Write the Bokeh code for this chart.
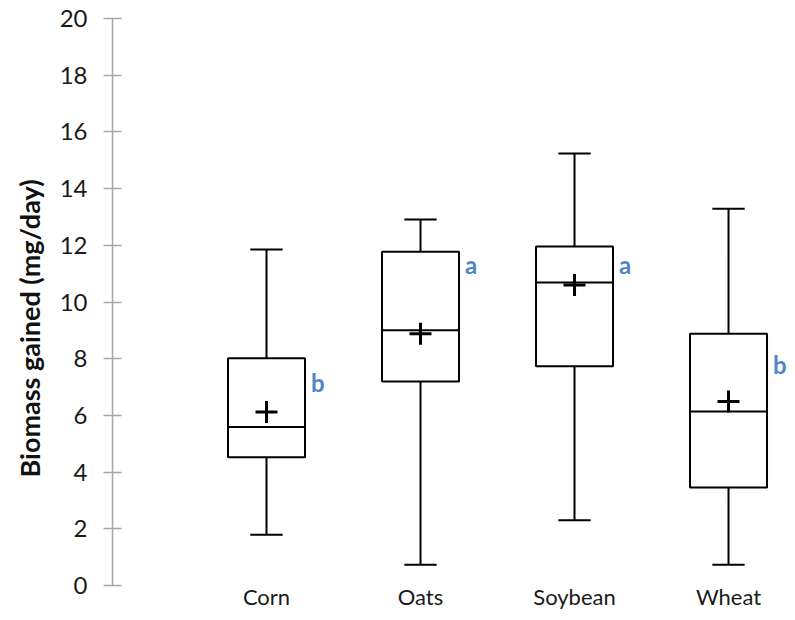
from bokeh.plotting import figure
from bokeh.models import Range1d, FixedTicker, ColumnDataSource, Title
from bokeh.core.properties import value
from bokeh.embed import file_html
from bokeh.resources import INLINE

# ---- data ----
categories = ["Corn", "Oats", "Soybean", "Wheat"]
whisker_low = [1.79, 0.73, 2.30, 0.73]
q1 = [4.52, 7.20, 7.73, 3.46]
median = [5.59, 9.00, 10.69, 6.14]
q3 = [8.02, 11.77, 11.96, 8.88]
whisker_high = [11.85, 12.91, 15.24, 13.29]
mean = [6.12, 8.88, 10.60, 6.49]
group_letters = ["b", "a", "a", "b"]
letter_y = [7.17, 11.33, 11.33, 7.80]
y_ticks = [0, 2, 4, 6, 8, 10, 12, 14, 16, 18, 20]
y_title = "Biomass gained (mg/day)"

xs = list(range(1, len(categories) + 1))
BOX_W = 0.5
CAP_W = 0.21

src = ColumnDataSource(dict(
    x=xs,
    left=[x - BOX_W / 2 for x in xs],
    right=[x + BOX_W / 2 for x in xs],
    cap_l=[x - CAP_W / 2 for x in xs],
    cap_r=[x + CAP_W / 2 for x in xs],
    low=whisker_low, q1=q1, med=median, q3=q3, high=whisker_high,
    mean=mean, letter=group_letters, letter_y=letter_y,
))

p = figure(width=787, height=612, x_range=Range1d(0, 4.383), y_range=Range1d(0, 20),
           output_backend="svg", toolbar_location=None,
           min_border_left=112, min_border_right=0, min_border_top=18, min_border_bottom=26)
p.outline_line_color = None
p.xgrid.visible = False
p.ygrid.visible = False
p.background_fill_color = "white"
p.border_fill_color = "white"

FONT = "Lato"
TXT = "#1a1a1a"

# y axis
ya = p.yaxis[0]
ya.ticker = FixedTicker(ticks=y_ticks)
ya.axis_line_color = "#a6a6a6"
ya.axis_line_width = 1.5
ya.major_tick_line_color = "#a6a6a6"
ya.major_tick_line_width = 1.5
ya.major_tick_in = 9
ya.major_tick_out = 9
ya.minor_tick_line_color = None
ya.major_label_text_font = FONT
ya.major_label_text_font_size = "24px"
ya.major_label_text_color = TXT
ya.major_label_standoff = 16

# y-axis title, shifted slightly below the frame centre as in the reference
p.add_layout(Title(text=y_title, align="left", offset=108, standoff=21,
                   text_font=FONT, text_font_size="27px", text_font_style="bold",
                   text_color="#111111"), "left")

# x axis
xa = p.xaxis[0]
xa.ticker = FixedTicker(ticks=xs)
xa.major_label_overrides = {x: c for x, c in zip(xs, categories)}
xa.axis_line_color = None
xa.major_tick_line_color = None
xa.minor_tick_line_color = None
xa.major_tick_in = 0
xa.major_tick_out = 0
xa.major_label_text_font = FONT
xa.major_label_text_font_size = "22px"
xa.major_label_text_color = TXT
xa.major_label_standoff = -3

LW = 2
# whiskers
p.segment(x0="x", y0="q3", x1="x", y1="high", source=src, line_color="black", line_width=LW)
p.segment(x0="x", y0="low", x1="x", y1="q1", source=src, line_color="black", line_width=LW)
# caps
p.segment(x0="cap_l", y0="high", x1="cap_r", y1="high", source=src, line_color="black", line_width=LW)
p.segment(x0="cap_l", y0="low", x1="cap_r", y1="low", source=src, line_color="black", line_width=LW)
# boxes
p.quad(left="left", right="right", bottom="q1", top="q3", source=src,
       fill_color="white", line_color="black", line_width=LW)
# median
p.segment(x0="left", y0="med", x1="right", y1="med", source=src, line_color="black", line_width=LW)
# mean
p.scatter(x="x", y="mean", source=src, marker="cross", size=22, line_color="black", line_width=3)
# group letters
p.text(x="right", y="letter_y", text="letter", source=src, x_offset=6,
       text_font=value(FONT), text_font_size="24px", text_font_style="bold",
       text_color="#4f86c6", text_baseline="alphabetic", text_align="left")

open("out.html", "w").write(file_html(p, INLINE))
